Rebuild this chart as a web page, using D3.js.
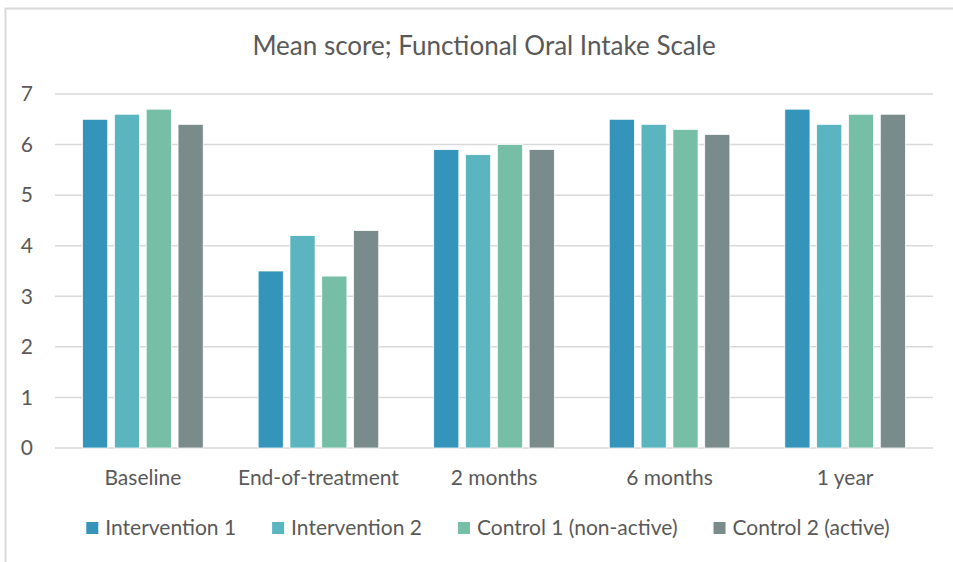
<!DOCTYPE html>
<html>
<head>
<meta charset="utf-8">
<script src="https://cdn.jsdelivr.net/npm/d3@7"></script>
<style>
  body { margin: 0; background: #fff; }
  svg { display: block; }
</style>
</head>
<body>
<script>
// Chart data
var categories = ["Baseline", "End-of-treatment", "2 months", "6 months", "1 year"];
var seriesNames = ["Intervention 1", "Intervention 2", "Control 1 (non-active)", "Control 2 (active)"];
var intervention1 = [6.5, 3.5, 5.9, 6.5, 6.7];
var intervention2 = [6.6, 4.2, 5.8, 6.4, 6.4];
var control1 = [6.7, 3.4, 6.0, 6.3, 6.6];
var control2 = [6.4, 4.3, 5.9, 6.2, 6.6];
var yTicks = [0, 1, 2, 3, 4, 5, 6, 7];
var colors = ["#3594BA", "#5AB5C0", "#76BEA6", "#7A8B8C"];

var seriesValues = [intervention1, intervention2, control1, control2];

// Set dimensions
var width = 953;
var height = 562;
var plotLeft = 55;
var plotRight = 933;
var plotTop = 94;
var plotBottom = 448;
var textColor = "#595959";
var fontFamily = "Lato, 'Open Sans', sans-serif";

var svg = d3.select("body").
    append("svg").
    attr("width", width).
    attr("height", height);

// Outer chart frame (runs off the right and bottom edge)
svg.append("rect").
    attr("x", 5.5).
    attr("y", 8.5).
    attr("width", 1000).
    attr("height", 600).
    attr("fill", "none").
    attr("stroke", "#d9d9d9").
    attr("stroke-width", 2);

// Scales
var x0 = d3.scaleBand().
    domain(categories).
    range([plotLeft, plotRight]).
    paddingInner(0.313).
    paddingOuter(0.157);
var x1 = d3.scaleBand().
    domain(seriesNames).
    range([0, x0.bandwidth()]).
    paddingInner(0.21);
var yScale = d3.scaleLinear().
    domain([0, 7]).
    range([plotBottom, plotTop]);

// Gridlines
svg.append("g").
    selectAll("line").
    data(yTicks).
    enter().
    append("line").
    attr("x1", plotLeft).
    attr("x2", plotRight).
    attr("y1", function(d) { return yScale(d); }).
    attr("y2", function(d) { return yScale(d); }).
    attr("stroke", "#d9d9d9").
    attr("stroke-width", 1.5);

// Y axis labels (axis line and ticks hidden)
var yAxis = d3.axisLeft(yScale).
    tickValues(yTicks).
    tickFormat(d3.format("d")).
    tickSize(0).
    tickPadding(0);
var yAxisG = svg.append("g").
    attr("transform", "translate(33,0)").
    call(yAxis);
yAxisG.select(".domain").remove();
yAxisG.selectAll("text").
    attr("font-family", fontFamily).
    attr("font-size", "21px").
    attr("fill", textColor);

// Bars
var groups = svg.append("g").
    selectAll("g").
    data(categories).
    enter().
    append("g").
    attr("transform", function(d) { return "translate(" + x0(d) + ",0)"; });

groups.selectAll("rect").
    data(function(d, i) {
        return seriesNames.map(function(s, j) {
            return { series: s, value: seriesValues[j][i], color: colors[j] };
        });
    }).
    enter().
    append("rect").
    attr("x", function(d) { return x1(d.series); }).
    attr("y", function(d) { return yScale(d.value); }).
    attr("width", x1.bandwidth()).
    attr("height", function(d) { return yScale(0) - yScale(d.value); }).
    attr("fill", function(d) { return d.color; }).
    attr("stroke", "#ffffff").
    attr("stroke-width", 0.75);

// X axis category labels
var xAxis = d3.axisBottom(x0).
    tickSize(0).
    tickPadding(0);
var xAxisG = svg.append("g").
    attr("transform", "translate(0,470)").
    call(xAxis);
xAxisG.select(".domain").remove();
xAxisG.selectAll("text").
    attr("font-family", fontFamily).
    attr("font-size", "21px").
    attr("fill", textColor);

// Title
svg.append("text").
    attr("x", 484).
    attr("y", 55).
    attr("text-anchor", "middle").
    attr("font-family", fontFamily).
    attr("font-size", "26px").
    attr("fill", textColor).
    text("Mean score; Functional Oral Intake Scale");

// Legend, laid out from measured text widths and centred
var legend = svg.append("g");
var markerSize = 12;
var markerGap = 7;
var itemGap = 36;
var cursor = 0;
seriesNames.forEach(function(name, i) {
    var item = legend.append("g").attr("transform", "translate(" + cursor + ",0)");
    item.append("rect").
        attr("x", 0).
        attr("y", 522).
        attr("width", markerSize).
        attr("height", markerSize).
        attr("fill", colors[i]);
    var t = item.append("text").
        attr("x", markerSize + markerGap).
        attr("y", 535).
        attr("font-family", fontFamily).
        attr("font-size", "21px").
        attr("fill", textColor).
        text(name);
    cursor += markerSize + markerGap + t.node().getComputedTextLength() + itemGap;
});
var legendWidth = cursor - itemGap;
legend.attr("transform", "translate(" + (488 - legendWidth / 2) + ",0)");
</script>
</body>
</html>
